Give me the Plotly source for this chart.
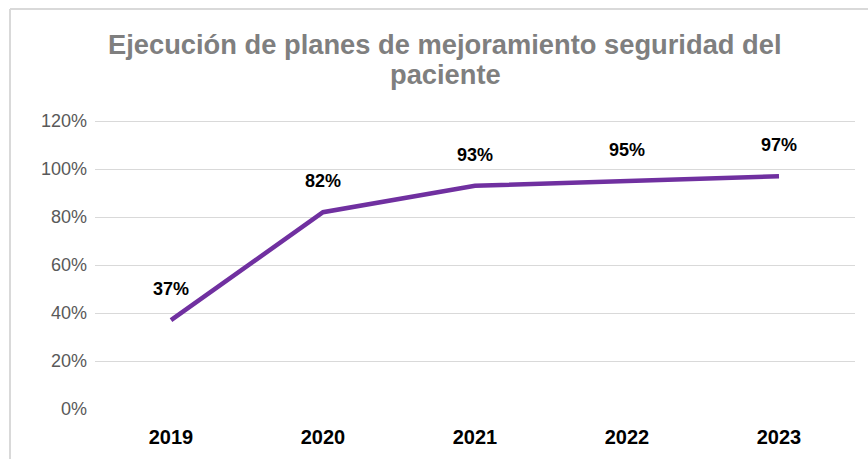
import plotly.graph_objects as go

years = ["2019", "2020", "2021", "2022", "2023"]
values = [0.37, 0.82, 0.93, 0.95, 0.97]
labels = ["37%", "82%", "93%", "95%", "97%"]
y_ticks = [0, 0.2, 0.4, 0.6, 0.8, 1.0, 1.2]
y_tick_text = ["0%", "20%", "40%", "60%", "80%", "100%", "120%"]
title_lines = ["Ejecución de planes de mejoramiento seguridad del", "paciente"]

W, H = 868, 459
L, R, T, B = 95, 13, 119, 50
pw, ph = W - L - R, H - T - B
y_top = ph / 240.0  # 240 px per 100%

def px_x(p):
    return (p - L) / pw

def px_y(p):
    return (H - B - p) / ph

fig = go.Figure()
fig.add_trace(go.Scatter(
    x=years, y=values, mode="lines",
    line=dict(color="#7030A0", width=4.5),
    hoverinfo="skip", showlegend=False, cliponaxis=False,
))

for i, (y, t) in enumerate(zip(values, labels)):
    fig.add_annotation(x=i, y=y, xref="x", yref="y", text="<b>%s</b>" % t, showarrow=False,
                       yshift=31, font=dict(family="Liberation Sans, Arial", size=18, color="#000000"))

for i, line in enumerate(title_lines):
    fig.add_annotation(x=px_x(445), y=px_y(45 + 30 * i), xref="paper", yref="paper",
                       text="<b>%s</b>" % line, showarrow=False, xanchor="center", yanchor="middle",
                       font=dict(family="Liberation Sans, Arial", size=27.3, color="#7f7f7f"))

fig.update_layout(
    width=W, height=H,
    margin=dict(l=L, r=R, t=T, b=B, autoexpand=False),
    paper_bgcolor="white", plot_bgcolor="white",
    xaxis=dict(type="category", showgrid=False, showline=False, zeroline=False,
               ticks="", ticklabelstandoff=14,
               tickfont=dict(family="Liberation Sans, Arial", size=20, color="#000000"),
               tickprefix="<b>", ticksuffix="</b>", range=[-0.5, 4.5]),
    yaxis=dict(range=[0, y_top], tickvals=y_ticks, ticktext=y_tick_text,
               showgrid=True, gridcolor="#d9d9d9", gridwidth=1, zeroline=False,
               showline=False, ticks="", ticklabelstandoff=7,
               tickfont=dict(family="Liberation Sans, Arial", size=18, color="#595959")),
    shapes=[
        dict(type="line", xref="paper", yref="paper", x0=px_x(10), x1=px_x(W + 5), y0=px_y(9), y1=px_y(9),
             line=dict(color="#d9d9d9", width=2)),
        dict(type="line", xref="paper", yref="paper", x0=px_x(10), x1=px_x(10), y0=px_y(9), y1=px_y(H + 5),
             line=dict(color="#d9d9d9", width=2)),
    ],
)

fig.write_html("out.html", config={"displayModeBar": False},
               post_script="document.body.style.margin='0px';document.body.style.overflow='hidden';")
